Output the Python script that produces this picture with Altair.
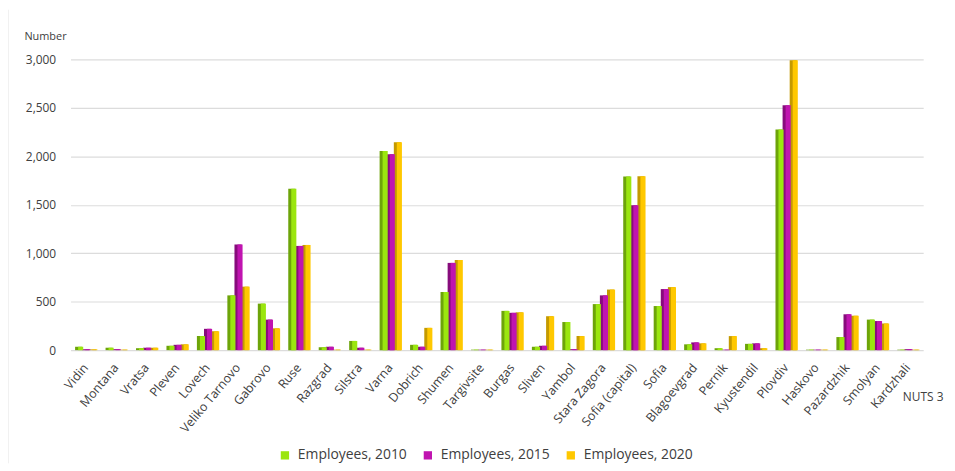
import altair as alt
import pandas as pd

regions = ["Vidin", "Montana", "Vratsa", "Pleven", "Lovech", "Veliko Tarnovo", "Gabrovo",
           "Ruse", "Razgrad", "Silstra", "Varna", "Dobrich", "Shumen", "Targivsite",
           "Burgas", "Sliven", "Yambol", "Stara Zagora", "Sofia (capital)", "Sofia",
           "Blagoevgrad", "Pernik", "Kyustendil", "Plovdiv", "Haskovo", "Pazardzhik",
           "Smolyan", "Kardzhali"]
emp_2010 = [35, 25, 20, 45, 145, 565, 480, 1665, 30, 95, 2055, 55, 600, 5,
            405, 35, 290, 475, 1790, 455, 60, 20, 65, 2275, 5, 135, 315, 5]
emp_2015 = [10, 10, 25, 55, 220, 1090, 315, 1075, 35, 25, 2020, 35, 900, 5,
            385, 45, 10, 565, 1495, 630, 80, 5, 70, 2525, 5, 370, 300, 10]
emp_2020 = [8, 5, 25, 60, 195, 655, 225, 1085, 5, 5, 2145, 230, 930, 5,
            390, 350, 145, 625, 1795, 650, 70, 145, 20, 2990, 5, 355, 275, 5]
series = ["Employees, 2010", "Employees, 2015", "Employees, 2020"]
colors = ["#9be60f", "#c014b0", "#ffc800"]
dark_colors = ["#6da40a", "#870c7c", "#c49a00"]
y_ticks = [0, 500, 1000, 1500, 2000, 2500, 3000]

rows = []
for s, vals in zip(series, [emp_2010, emp_2015, emp_2020]):
    for r, v in zip(regions, vals):
        rows.append({"region": r, "series": s, "value": v})
df = pd.DataFrame(rows)

FONT = "Open Sans"

x_enc = alt.X(
    "region:N", sort=regions,
    scale=alt.Scale(paddingInner=0.3, paddingOuter=0.15),
    axis=alt.Axis(labelAngle=-50, labelFontSize=12.5, labelColor="#404040", labelFont=FONT,
                  ticks=False, domain=False, labelPadding=15, labelAlign="right",
                  labelBaseline="middle", labelOverlap=False,
                  title="NUTS 3", titleAngle=0, titleX=838, titleY=47,
                  titleAlign="left", titleBaseline="middle", titleFontWeight="normal",
                  titleFontSize=12, titleColor="#404040", titleFont=FONT),
)
y_enc = alt.Y(
    "value:Q",
    scale=alt.Scale(domain=[0, 3000], nice=False),
    axis=alt.Axis(values=y_ticks, format=",.0f", labelFontSize=12, labelColor="#404040",
                  labelFont=FONT, ticks=False, domain=False, labelPadding=15,
                  gridColor="#dcdcdc", gridWidth=1.2,
                  title="Number", titleAngle=0, titleX=-47, titleY=-23,
                  titleAlign="left", titleBaseline="middle", titleFontWeight="normal",
                  titleFontSize=11, titleColor="#404040", titleFont=FONT),
)
xoff = alt.XOffset("series:N", sort=series, scale=alt.Scale(paddingInner=0, paddingOuter=0))

dark = alt.Chart(df).mark_bar().encode(
    x=x_enc, y=y_enc, xOffset=xoff,
    color=alt.Color("series:N", sort=series,
                    scale=alt.Scale(domain=series, range=dark_colors), legend=None),
)
light = alt.Chart(df).mark_bar(width=alt.RelativeBandSize(0.72), xOffset=-1).encode(
    x=x_enc, y=y_enc, xOffset=xoff,
    color=alt.Color("series:N", sort=series,
                    scale=alt.Scale(domain=series, range=colors),
                    legend=alt.Legend(title=None, orient="none", direction="horizontal",
                                      legendX=209, legendY=392, symbolType="square",
                                      symbolSize=70, symbolStrokeWidth=0,
                                      labelFontSize=14, labelColor="#404040",
                                      labelFont=FONT, columnPadding=14, labelOffset=6,
                                      symbolOpacity=1)),
)
border = alt.Chart(df).mark_rule(color="#e4e4e4").encode(
    x=alt.value(-63), y=alt.value(-50), y2=alt.value(407)
).transform_filter(alt.datum.region == "Vidin").transform_filter(alt.datum.series == "Employees, 2010")

chart = alt.layer(dark, light, border).resolve_scale(color="independent").properties(
    width=859, height=293,
    padding={"left": 63, "top": 50, "right": 24, "bottom": 114},
    autosize=alt.AutoSizeParams(type="none"),
    background="white",
).configure_view(strokeWidth=0, stroke="transparent")

chart.save("out.html", embed_options={"renderer": "svg", "actions": False})
